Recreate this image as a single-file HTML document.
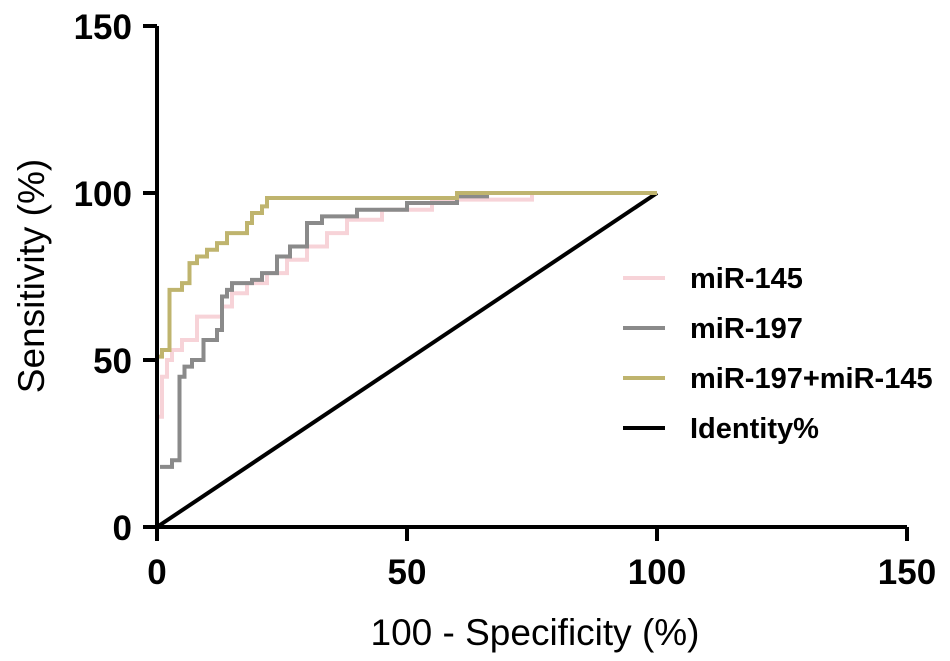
<!DOCTYPE html>
<html><head><meta charset="utf-8"><style>
html,body{margin:0;padding:0;background:#fff;}
svg{display:block;font-family:"Liberation Sans",Arial,sans-serif;}
</style></head><body>
<svg id="chart" width="950" height="661" viewBox="0 0 950 661" xmlns="http://www.w3.org/2000/svg">
<g id="series"></g>
<g id="axes"></g>
<g id="legend"></g>
</svg>
<script>
const xTicks = [0, 50, 100, 150];
const yTicks = [0, 50, 100, 150];
const seriesNames = ["miR-145", "miR-197", "miR-197+miR-145", "Identity%"];
const pinkX = [0,0,1,1,2,2,3,3,5,5,8,8,13,13,15,15,18,18,22,22,26,26,30,30,34,34,38,38,45,45,55,55,75,75,100];
const pinkY = [0,33,33,45,45,50,50,53,53,56,56,63,63,66,66,70,70,73,73,76,76,80,80,84,84,88,88,92,92,95,95,98,98,100,100];
const grayX = [0.6,3,3,4.5,4.5,5.5,5.5,7,7,9.3,9.3,12,12,13,13,14,14,15,15,19,19,21,21,24,24,26.6,26.6,30,30,33,33,40,40,50,50,60,60,66,66,75];
const grayY = [18,18,20,20,45,45,48,48,50,50,56,56,59,59,69,69,71,71,73,73,74,74,76,76,81,81,84,84,91,91,93,93,95,95,97,97,99,99,100,100];
const goldX = [0,0,1,1,2.5,2.5,5,5,6.5,6.5,8,8,10,10,12,12,14,14,18,18,19,19,21,21,22,22,60,60,100];
const goldY = [34,51,51,53,53,71,71,73,73,79,79,81,81,83,83,85,85,88,88,91,91,94,94,96,96,98.5,98.5,100,100];
const identX = [0, 100];
const identY = [0, 100];

const NS = "http://www.w3.org/2000/svg";
const sx = v => 157 + v * 5;
const sy = v => 527 - v * (334/100);
function mk(tag, attrs, parent){
  const e = document.createElementNS(NS, tag);
  for (const k in attrs) e.setAttribute(k, attrs[k]);
  parent.appendChild(e); return e;
}
const series = document.getElementById('series');
const axes = document.getElementById('axes');
const legend = document.getElementById('legend');
const colors = ["#f7d3d8", "#8a8a8a", "#bfb46e", "#000000"];
const data = [[pinkX,pinkY],[grayX,grayY],[goldX,goldY],[identX,identY]];
const order = [3,0,1,2];
order.forEach(i => {
  const [xs, ys] = data[i];
  const d = xs.map((x, j) => (j ? "L" : "M") + sx(x) + " " + sy(ys[j])).join(" ");
  const p = mk('path', {d: d, fill: "none", stroke: colors[i], "stroke-width": 4}, series);
  
  
});
const xa = mk('line', {x1: 155, y1: sy(0), x2: sx(150), y2: sy(0), stroke: "#000", "stroke-width": 4}, axes);


const ya = mk('line', {x1: sx(0), y1: 529, x2: sx(0), y2: sy(150), stroke: "#000", "stroke-width": 4}, axes);


xTicks.forEach(t => {
  const l = mk('line', {x1: sx(t), y1: sy(0), x2: sx(t), y2: sy(0) + 14, stroke: "#000", "stroke-width": 4}, axes);
  
  
  const tx = mk('text', {x: sx(t), y: 584, "text-anchor": "middle", "font-size": 35, "font-weight": "bold"}, axes);
  tx.textContent = t;
  
  
});
yTicks.forEach(t => {
  const l = mk('line', {x1: sx(0) - 14, y1: sy(t), x2: sx(0), y2: sy(t), stroke: "#000", "stroke-width": 4}, axes);
  
  
  const tx = mk('text', {x: 132, y: sy(t) + 13, "text-anchor": "end", "font-size": 35, "font-weight": "bold"}, axes);
  tx.textContent = t;
  
  
});
const xt = mk('text', {x: 535, y: 645, "text-anchor": "middle", "font-size": 37}, axes);
xt.textContent = "100 - Specificity (%)";


const yt = mk('text', {x: 0, y: 0, "text-anchor": "middle", "font-size": 37, transform: "translate(44,276) rotate(-90)"}, axes);
yt.textContent = "Sensitivity (%)";


const rowsY = [278, 328, 378, 428];
seriesNames.forEach((n, i) => {
  const l = mk('line', {x1: 623, y1: rowsY[i], x2: 665, y2: rowsY[i], stroke: colors[i], "stroke-width": 4}, legend);
  
  
  const t = mk('text', {x: 690, y: rowsY[i] + 10, "font-size": 29, "font-weight": "bold"}, legend);
  t.textContent = n;
  
  
});
</script>
</body></html>
